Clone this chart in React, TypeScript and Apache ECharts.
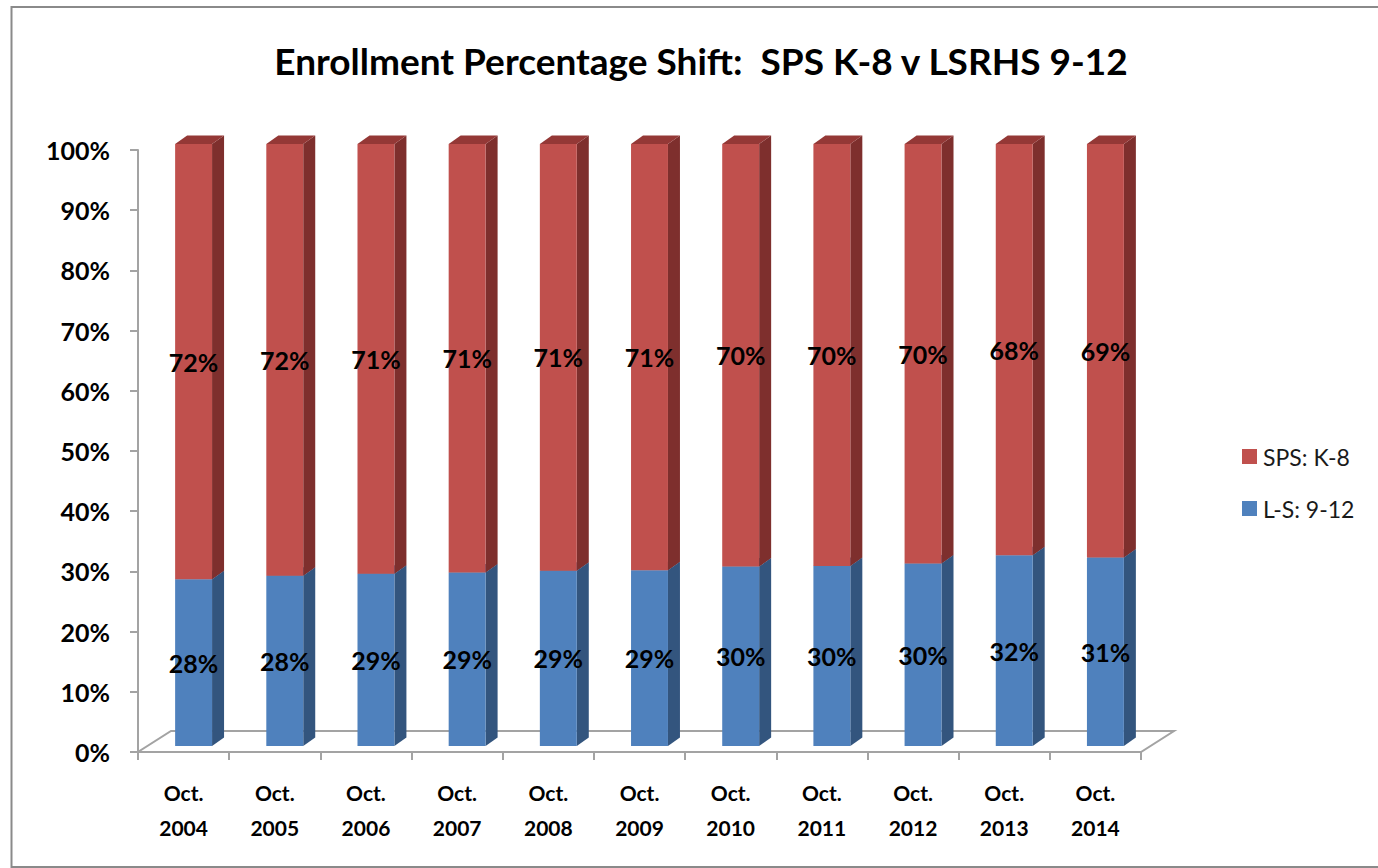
import React, { useEffect, useRef } from "react";
import * as echarts from "echarts";

const categories = [
  "Oct.\n2004", "Oct.\n2005", "Oct.\n2006", "Oct.\n2007", "Oct.\n2008", "Oct.\n2009",
  "Oct.\n2010", "Oct.\n2011", "Oct.\n2012", "Oct.\n2013", "Oct.\n2014",
];
const lsValues = [27.7, 28.3, 28.6, 28.8, 29.1, 29.2, 29.8, 29.9, 30.3, 31.7, 31.3];
const spsValues = [72.3, 71.7, 71.4, 71.2, 70.9, 70.8, 70.2, 70.1, 69.7, 68.3, 68.7];
const seriesNames = ["SPS: K-8", "L-S: 9-12"];

const FONT = "Lato, 'Open Sans', sans-serif";
const AXIS_GRAY = "#a3a3a3";

const FRONT_SHIFT_X = 10;
const FRONT_SHIFT_Y = -6;
const DEPTH_X = 12;
const DEPTH_Y = -8.5;
const FLOOR_X = 33;
const FLOOR_Y = -21;

function makeBarRender(front: string, side: string, top: string) {
  return (params: any, api: any) => {
    const cat = api.value(0);
    const b = api.coord([cat, api.value(1)]);
    const t = api.coord([cat, api.value(2)]);
    const band = api.size([1, 0])[0];
    const w = band * 0.405;
    const x0 = b[0] - w / 2 + FRONT_SHIFT_X;
    const yb = b[1] + FRONT_SHIFT_Y;
    const yt = t[1] + FRONT_SHIFT_Y;
    const val = api.value(2) - api.value(1);
    return {
      type: "group",
      children: [
        {
          type: "polygon",
          shape: {
            points: [
              [x0 + w, yt],
              [x0 + w + DEPTH_X, yt + DEPTH_Y],
              [x0 + w + DEPTH_X, yb + DEPTH_Y],
              [x0 + w, yb],
            ],
          },
          style: { fill: side },
        },
        {
          type: "polygon",
          shape: {
            points: [
              [x0, yt],
              [x0 + DEPTH_X, yt + DEPTH_Y],
              [x0 + w + DEPTH_X, yt + DEPTH_Y],
              [x0 + w, yt],
            ],
          },
          style: { fill: top },
        },
        {
          type: "rect",
          shape: { x: x0, y: yt, width: w, height: yb - yt },
          style: { fill: front },
        },
        {
          type: "text",
          x: x0 + w / 2,
          y: (yt + yb) / 2,
          style: {
            text: Math.round(val) + "%",
            fill: "#000",
            font: `bold 25px ${FONT}`,
            align: "center",
            verticalAlign: "middle",
          },
        },
      ],
    };
  };
}

export default function App() {
  const ref = useRef<HTMLDivElement>(null);
  useEffect(() => {
    if (!ref.current) return;
    const chart = echarts.init(ref.current, null, { renderer: "svg" });
    const lsData = lsValues.map((v, i) => [i, 0, v]);
    const spsData = spsValues.map((v, i) => [i, lsValues[i], lsValues[i] + v]);
    chart.setOption({
      animation: false,
      backgroundColor: "#fff",
      textStyle: { fontFamily: FONT },
      graphic: [
        {
          type: "rect",
          shape: { x: 11.5, y: 7, width: 1400, height: 860 },
          style: { fill: "none", stroke: "#8a8a8a", lineWidth: 2 },
          z: 100,
        },
        {
          type: "text",
          x: 701,
          y: 60,
          style: {
            text: "Enrollment Percentage Shift:  SPS K-8 v LSRHS 9-12",
            font: `bold 37px ${FONT}`,
            fill: "#000",
            align: "center",
            verticalAlign: "middle",
          },
        },
      ],
      legend: {
        orient: "vertical",
        left: 1237,
        top: 440,
        itemWidth: 15,
        itemHeight: 15,
        itemGap: 29,
        icon: "rect",
        data: seriesNames,
        textStyle: { fontSize: 23, fontFamily: FONT, color: "#1a1a1a", padding: [0, 0, 0, 1] },
      },
      grid: { left: 138, right: 237, top: 150, bottom: 116 },
      xAxis: {
        type: "category",
        data: categories,
        boundaryGap: true,
        axisLine: { show: true, lineStyle: { color: AXIS_GRAY, width: 2 } },
        axisTick: { show: true, length: 8, lineStyle: { color: AXIS_GRAY, width: 2 } },
        axisLabel: {
          color: "#000",
          fontWeight: "bold",
          fontSize: 21,
          fontFamily: FONT,
          lineHeight: 35,
          margin: 23,
          interval: 0,
        },
      },
      yAxis: {
        type: "value",
        min: 0,
        max: 100,
        interval: 10,
        axisLine: { show: true, lineStyle: { color: AXIS_GRAY, width: 2 } },
        axisTick: { show: true, length: 8, lineStyle: { color: AXIS_GRAY, width: 2 } },
        splitLine: { show: false },
        axisLabel: {
          formatter: "{value}%",
          color: "#000",
          fontWeight: "bold",
          fontSize: 25,
          fontFamily: FONT,
          margin: 28,
        },
      },
      series: [
        {
          type: "custom",
          name: "floor",
          data: [[0, 0]],
          z: 1,
          silent: true,
          renderItem: (params: any) => {
            const cs = params.coordSys;
            const x = cs.x;
            const yb = cs.y + cs.height;
            const w = cs.width;
            return {
              type: "polygon",
              shape: {
                points: [
                  [x, yb],
                  [x + w, yb],
                  [x + w + FLOOR_X, yb + FLOOR_Y],
                  [x + FLOOR_X, yb + FLOOR_Y],
                ],
              },
              style: { fill: "#fff", stroke: AXIS_GRAY, lineWidth: 2 },
            };
          },
        },
        {
          type: "custom",
          name: seriesNames[1],
          data: lsData,
          z: 2,
          itemStyle: { color: "#4f81bd" },
          encode: { x: 0, y: 2 },
          renderItem: makeBarRender("#4f81bd", "#33557e", "#3d6697"),
        },
        {
          type: "custom",
          name: seriesNames[0],
          data: spsData,
          z: 3,
          itemStyle: { color: "#c0504d" },
          encode: { x: 0, y: 2 },
          renderItem: makeBarRender("#c0504d", "#7e2f2d", "#943836"),
        },
      ],
    });
    return () => chart.dispose();
  }, []);
  return (
    <div
      ref={ref}
      style={{ position: "fixed", left: 0, top: 0, width: 1378, height: 868 }}
    />
  );
}
